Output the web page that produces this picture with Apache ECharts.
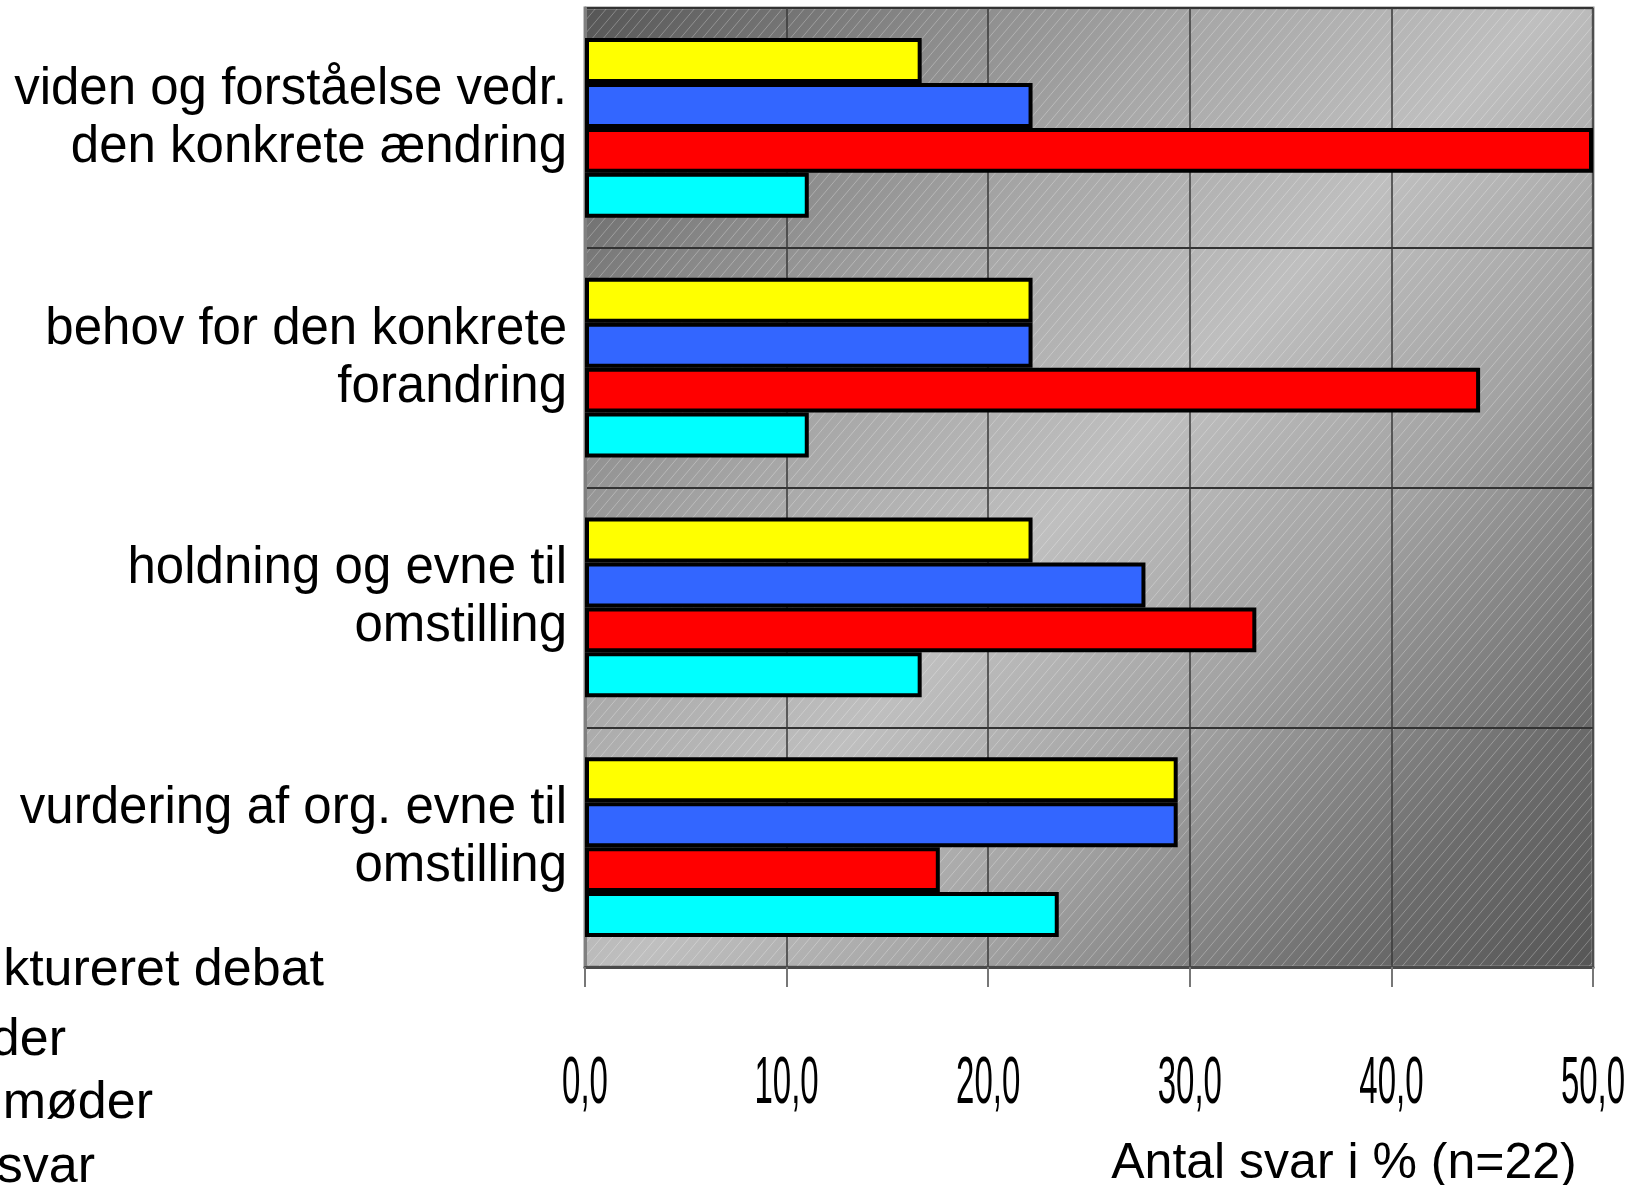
<!DOCTYPE html>
<html><head><meta charset="utf-8">
<script src="https://cdn.jsdelivr.net/npm/echarts@6/dist/echarts.min.js"></script>
<style>html,body{margin:0;padding:0;background:#fff;overflow:hidden}#c{width:1643px;height:1185px}</style>
</head><body><div id="c"></div>
<script>
// ---- data ----
const categories = [
  "viden og forståelse vedr.\nden konkrete ændring",
  "behov for den konkrete\nforandring",
  "holdning og evne til\nomstilling",
  "vurdering af org. evne til\nomstilling"
];
const seriesNames = ["Struktureret debat", "Afdelingsmøder", "Personale møder", "Ingen svar"];
const yellowValues = [16.7, 22.2, 22.2, 29.4];
const blueValues   = [22.2, 22.2, 27.8, 29.4];
const redValues    = [50.0, 44.4, 33.3, 17.6];
const cyanValues   = [11.1, 11.1, 16.7, 23.5];
const xTickLabels  = ["0,0", "10,0", "20,0", "30,0", "40,0", "50,0"];
const axisTitle    = "Antal svar i % (n=22)";

// ---- styling ----
const FONT = "'Liberation Sans', Arial, sans-serif";
const colors = ["#ffff00", "#3366ff", "#ff0000", "#00ffff"];
const seriesValues = [yellowValues, blueValues, redValues, cyanValues];

// hatch tile
const tile = document.createElement('canvas');
const tw = 11, th = 13;
tile.width = tw; tile.height = th;
const tc = tile.getContext('2d');
tc.strokeStyle = 'rgba(255,255,255,0.28)';
tc.lineWidth = 1;
for (let k = -1; k <= 1; k++) {
  tc.beginPath(); tc.moveTo(k * tw, th); tc.lineTo(k * tw + tw, 0); tc.stroke();
}

// measure text for legend placement
const mc = document.createElement('canvas').getContext('2d');
const legendFont = 52;
mc.font = legendFont + "px 'Liberation Sans', Arial, sans-serif";
const legendTextEnds = [323, 65, 152, 94];
const legendTops = [945, 1015, 1078, 1142];
const itemW = 40;

const legends = seriesNames.map((n, i) => ({
  data: [n],
  left: legendTextEnds[i] - mc.measureText(n).width - itemW - 5,
  top: legendTops[i],
  orient: 'vertical',
  padding: 0,
  itemWidth: itemW,
  itemHeight: 30,
  icon: 'rect',
  itemStyle: { borderColor: '#000', borderWidth: 2 },
  textStyle: { fontFamily: FONT, fontSize: legendFont, color: '#000' },
  selectedMode: false
}));

const GL = 585, GR = 1593, GT = 8, GB = 967;

const option = {
  animation: false,
  backgroundColor: '#fff',
  grid: {
    left: GL, right: 1643 - GR, top: GT, bottom: 1185 - GB,
    show: true,
    outerBoundsMode: 'none',
    containLabel: false,
    borderColor: '#8a8a8a', borderWidth: 3,
    backgroundColor: {
      type: 'linear', x: 0, y: 0, x2: 1, y2: 1,
      colorStops: [
        { offset: 0, color: '#555555' },
        { offset: 0.19, color: '#8a8a8a' },
        { offset: 0.32, color: '#a6a6a6' },
        { offset: 0.5, color: '#bfbfbf' },
        { offset: 0.67, color: '#a2a2a2' },
        { offset: 0.865, color: '#6c6c6c' },
        { offset: 1, color: '#565656' }
      ]
    }
  },
  graphic: [{
    type: 'rect', left: GL, top: GT, z: 0, silent: true,
    shape: { width: GR - GL, height: GB - GT },
    style: { fill: { image: tile, repeat: 'repeat' } }
  }],
  legend: legends,
  xAxis: {
    type: 'value', min: 0, max: 50, interval: 10, z: 1,
    name: axisTitle, nameLocation: 'middle', nameGap: 172,
    nameTextStyle: { fontFamily: FONT, fontSize: 50, color: '#000', padding: [0, 0, 0, 510] },
    axisLine: { show: true, lineStyle: { color: '#4a4a4a', width: 3 } },
    axisTick: { show: true, length: 20, lineStyle: { color: '#777', width: 2 } },
    axisLabel: {
      margin: 85, fontFamily: FONT, fontSize: 66, color: '#000',
      formatter: v => xTickLabels[Math.round(v / 10)]
    },
    splitLine: { show: true, lineStyle: { color: '#3a3a3a', width: 1.5 } }
  },
  yAxis: {
    type: 'category', data: categories, inverse: true, z: 1,
    axisLine: { show: true, lineStyle: { color: '#808080', width: 3 } },
    axisTick: { show: false },
    axisLabel: {
      margin: 18, fontFamily: FONT, fontSize: 51, lineHeight: 58, color: '#000',
      // a short empty trailing line lifts the two text lines slightly, as in the original
      formatter: v => v + '\n{s| }',
      rich: { s: { fontSize: 10, lineHeight: 18 } }
    },
    splitLine: { show: true, lineStyle: { color: '#333', width: 2 } }
  },
  series: seriesNames.map((n, i) => ({
    name: n, type: 'bar', data: seriesValues[i],
    barGap: '0%', barCategoryGap: '25%',
    itemStyle: { color: colors[i], borderColor: '#000', borderWidth: 4 }
  }))
};

const chart = echarts.init(document.getElementById('c'), null, { renderer: 'canvas' });
chart.setOption(option);

// condense the x tick labels horizontally like the original
const zr = chart.getZr();
zr.storage.getDisplayList(true).forEach(el => {
  if (el.style && typeof el.style.text === 'string' && /^\d+,0$/.test(el.style.text)) {
    el.scaleX = 0.5;
    el.markRedraw();
  }
});
zr.refreshImmediately();
</script></body></html>
